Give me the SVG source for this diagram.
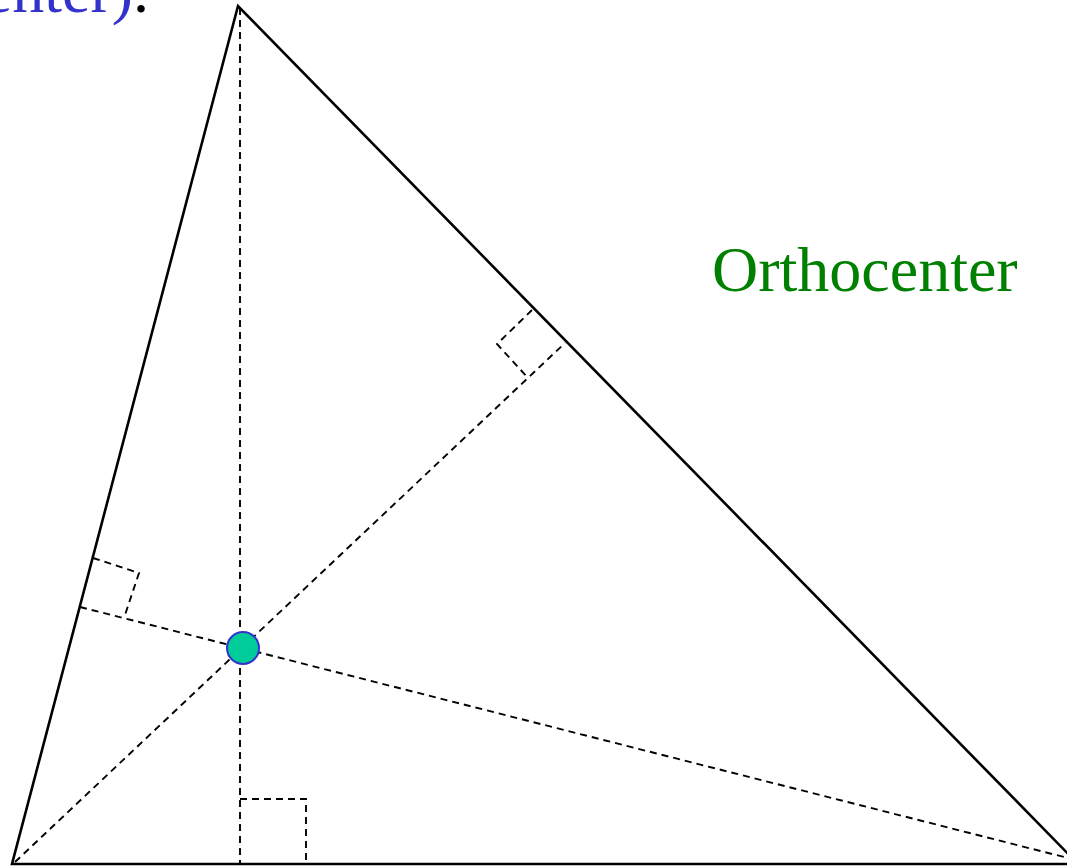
<svg xmlns="http://www.w3.org/2000/svg" width="1067" height="866" viewBox="0 0 1067 866">
<style>
.solid{fill:none;stroke:#000;stroke-width:2.6;stroke-linejoin:miter}
.dash{fill:none;stroke:#000;stroke-width:1.9;stroke-dasharray:7,5}
.lbl{font-family:"Liberation Serif","Times New Roman",serif;font-size:64px}
</style>
<rect width="1067" height="866" fill="#fff"/>
<text class="lbl" x="149" y="12" text-anchor="end"><tspan fill="#3333CC">enter)</tspan><tspan fill="#000">.</tspan></text>
<g id="triangle">
<polyline class="solid" points="1078,864 12,864 238,6 1078,864"/>
</g>
<g id="connectors">
<line class="dash" x1="240" y1="8" x2="240" y2="864"/>
<line class="dash" x1="15" y1="862" x2="565" y2="343"/>
<line class="dash" x1="80" y1="607" x2="1068" y2="858"/>
<polyline class="dash" points="240,799 306,799 306,864"/>
<polyline class="dash" points="532,310 497,344 528,378"/>
<polyline class="dash" points="93,558 139,573 124,618"/>
</g>
<g id="orthocenter">
<circle cx="243" cy="648" r="16" fill="#00CC99" stroke="#3333CC" stroke-width="2"/>
</g>
<g id="label">
<text class="lbl" x="712" y="291" fill="#008000">Orthocenter</text>
</g>
</svg>
